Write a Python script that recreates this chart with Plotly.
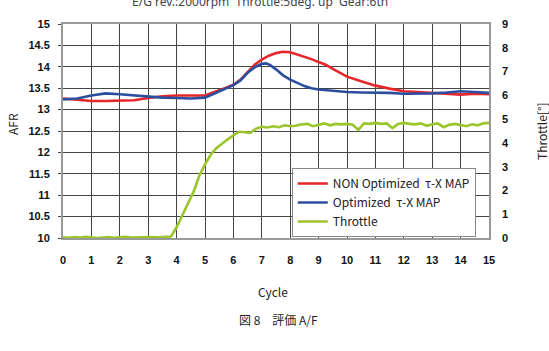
import plotly.graph_objects as go

# ---- data ----
cycle_non = [0, 0.5, 1.0, 1.5, 2.0, 2.5, 3.0, 3.5, 4.0, 4.5, 5.0, 5.5, 6.0, 6.25, 6.5, 6.75,
             7.0, 7.25, 7.5, 7.75, 8.0, 8.25, 8.5, 8.75, 9.0, 9.25, 9.5, 9.75, 10.0, 10.5,
             11.0, 11.5, 12.0, 12.5, 13.0, 13.5, 14.0, 14.5, 15.0]
afr_non = [13.26, 13.23, 13.20, 13.20, 13.21, 13.22, 13.27, 13.31, 13.33, 13.33, 13.33, 13.45,
           13.58, 13.70, 13.87, 14.05, 14.17, 14.26, 14.32, 14.35, 14.34, 14.29, 14.23, 14.18,
           14.11, 14.05, 13.95, 13.85, 13.77, 13.66, 13.56, 13.49, 13.43, 13.41, 13.39, 13.36,
           13.35, 13.37, 13.36]

cycle_opt = [0, 0.5, 1.0, 1.5, 2.0, 2.5, 3.0, 3.5, 4.0, 4.5, 5.0, 5.5, 6.0, 6.25, 6.5, 6.75,
             7.0, 7.15, 7.3, 7.5, 7.75, 8.0, 8.25, 8.5, 8.75, 9.0, 9.5, 10.0, 10.5, 11.0, 11.5,
             12.0, 12.5, 13.0, 13.5, 14.0, 14.5, 15.0]
afr_opt = [13.24, 13.26, 13.33, 13.38, 13.36, 13.33, 13.30, 13.28, 13.27, 13.26, 13.28, 13.43,
           13.57, 13.68, 13.86, 13.99, 14.07, 14.08, 14.04, 13.94, 13.80, 13.70, 13.62, 13.55,
           13.50, 13.47, 13.44, 13.41, 13.40, 13.40, 13.39, 13.37, 13.37, 13.38, 13.40, 13.43,
           13.41, 13.39]

cycle_thr = [round(i * 0.2, 1) for i in range(76)]
throttle = [0.03, 0.01, 0.04, 0.02, 0.05, 0.03, 0.00, 0.02, 0.04, 0.01,
            0.03, 0.05, 0.02, 0.01, 0.03, 0.04, 0.02, 0.03, 0.05, 0.06,
            0.45, 0.98, 1.45, 1.95, 2.62, 3.10, 3.50, 3.78, 3.98, 4.15,
            4.32, 4.47, 4.45, 4.42, 4.60, 4.68, 4.65, 4.70, 4.66, 4.74,
            4.70, 4.72, 4.78, 4.80, 4.70, 4.76, 4.82, 4.74, 4.80, 4.78,
            4.80, 4.76, 4.55, 4.82, 4.80, 4.84, 4.80, 4.82, 4.62, 4.80,
            4.84, 4.80, 4.78, 4.82, 4.72, 4.78, 4.82, 4.66, 4.76, 4.80,
            4.76, 4.70, 4.78, 4.74, 4.82, 4.84]

x_ticks = list(range(0, 16))
afr_ticks = [10, 10.5, 11, 11.5, 12, 12.5, 13, 13.5, 14, 14.5, 15]
afr_tick_text = ["10", "10.5", "11", "11.5", "12", "12.5", "13", "13.5", "14", "14.5", "15"]
thr_ticks = list(range(0, 10))

names = ["NON Optimized  τ-X MAP", "Optimized  τ-X MAP", "Throttle"]
colors = ["#e5262b", "#2b4f9e", "#9cc52c"]

TICKFONT = dict(family="Liberation Sans Narrow, Arial Narrow, Liberation Sans, Arial",
                size=11, color="#111", weight=700)
TEXTFONT = dict(family="Noto Sans CJK JP, Noto Sans, sans-serif", size=12, color="#222")

fig = go.Figure()
fig.add_trace(go.Scatter(x=cycle_non, y=afr_non, mode="lines", name=names[0],
                         line=dict(color=colors[0], width=2.6)))
fig.add_trace(go.Scatter(x=cycle_opt, y=afr_opt, mode="lines", name=names[1],
                         line=dict(color=colors[1], width=2.6)))
fig.add_trace(go.Scatter(x=cycle_thr, y=throttle, mode="lines", name=names[2], yaxis="y2",
                         line=dict(color=colors[2], width=2.6)))

PL, PR, PT, PB = 63, 489, 24, 238


def px(xp, yp):
    return (xp - PL) / (PR - PL), (PB - yp) / (PB - PT)


def ann(text, xp, yp, font, angle=0):
    ax, ay = px(xp, yp)
    return dict(text=text, x=ax, y=ay, xref="paper", yref="paper", showarrow=False,
                font=font, textangle=angle, xanchor="center", yanchor="middle")


fig.update_layout(
    width=549, height=351,
    margin=dict(l=63, r=60, t=24, b=113),
    paper_bgcolor="white", plot_bgcolor="white",
    showlegend=True,
    legend=dict(x=0.537, y=0.327, xanchor="left", yanchor="top",
                bgcolor="white", bordercolor="#888", borderwidth=1,
                font=TEXTFONT, tracegroupgap=0, itemwidth=30),
    xaxis=dict(range=[0, 15], tickvals=x_ticks, showgrid=True, gridcolor="#444",
               gridwidth=1, zeroline=False, showline=True, linecolor="#999", linewidth=2,
               mirror=True, tickfont=TICKFONT, ticks="", ticklabelstandoff=11),
    yaxis=dict(range=[10, 15], tickvals=afr_ticks, ticktext=afr_tick_text, showgrid=True,
               gridcolor="#444", gridwidth=1, zeroline=False, showline=True, linecolor="#999",
               linewidth=2, mirror=True, tickfont=TICKFONT, ticks="outside", ticklen=3,
               tickcolor="#444", ticklabelstandoff=6),
    yaxis2=dict(range=[0, 9], tickvals=thr_ticks, overlaying="y", side="right",
                showgrid=False, zeroline=False, showline=False, tickfont=TICKFONT,
                ticks="", ticklabelstandoff=12),
    annotations=[
        ann("E/G rev.:2000rpm  Throttle:5deg. up  Gear:6th", 260, 1,
            dict(family="Noto Sans", size=12, color="#444")),
        ann("AFR", 12, 124, TEXTFONT, -90),
        ann("Throttle[°]", 541, 132, TEXTFONT, -90),
        ann("Cycle", 273, 291, TEXTFONT),
        ann("図 8　評価 A/F", 278, 319, TEXTFONT),
    ],
)

fig.write_html("out.html")
